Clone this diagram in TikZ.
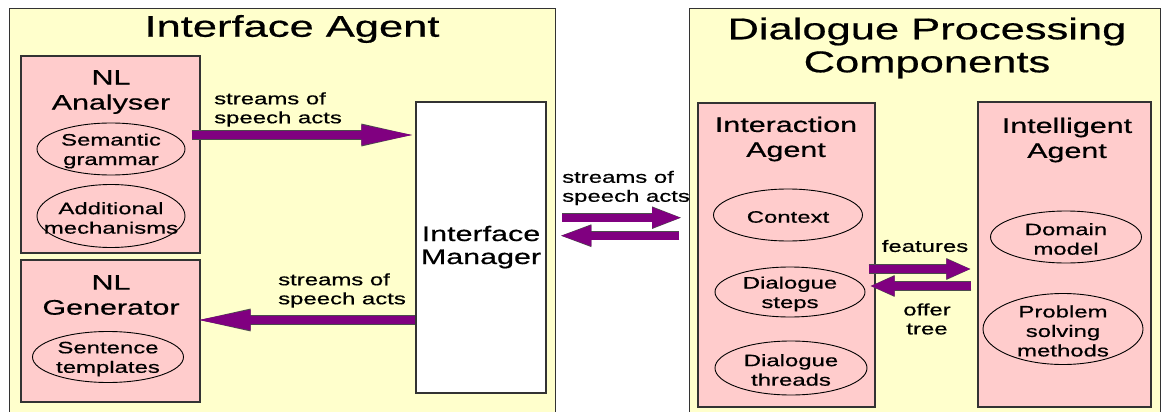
\documentclass[tikz,border=0pt]{standalone}
\usepackage{fontspec}
\setmainfont{Liberation Sans}[FakeStretch=1.45,FakeBold=0.6]
\usetikzlibrary{shapes.geometric,arrows.meta}
\definecolor{panelyellow}{HTML}{FFFFCC}
\definecolor{compink}{HTML}{FFCCCC}
\definecolor{flowpurple}{HTML}{800080}
\definecolor{edgegray}{HTML}{333333}

\begin{document}
\begin{tikzpicture}[x=1pt,y=-1pt,
  panel/.style={draw=edgegray, line width=1.4pt, fill=panelyellow, inner sep=0pt},
  compbox/.style={draw=edgegray, line width=1.4pt, fill=compink, inner sep=0pt},
  manager/.style={draw=edgegray, line width=1.4pt, fill=white, inner sep=0pt, align=center,
    font=\fontsize{21}{25}\selectfont},
  paneltitle/.style={align=center, inner sep=0pt, font=\fontsize{30}{33}\selectfont},
  boxtitle/.style={align=center, inner sep=0pt, font=\fontsize{21}{25}\selectfont},
  % ellipse outline of fixed size; its text is set as a centred label
  part/.style={ellipse, draw=black, line width=0.9pt, inner sep=0pt,
    label={[parttext]center:#1}},
  parttext/.style={align=center, inner sep=0pt, yshift=-2pt,
    font=\fontsize{16.5}{19.5}\selectfont},
  flowlabel/.style={align=left, inner sep=0pt, anchor=west, font=\fontsize{16.5}{19}\selectfont},
  flowlabelc/.style={align=center, inner sep=0pt, font=\fontsize{16.5}{19}\selectfont},
  fat/.style={draw=flowpurple, line width=8pt,
    -{Triangle[length=#1 0 0, width=18pt 0 0]},
    preaction={draw=black!70, line width=9.2pt, -{Triangle[length=#1 0 0, width=19.8pt 0 0]}}}
]
\useasboundingbox (0,0) rectangle (1162,412);
\clip (0,0) rectangle (1162,412);
\fill[white] (0,0) rectangle (1162,412);

% ---------- Interface Agent ----------
\node[panel, minimum width=546pt, minimum height=420pt, anchor=north west] (left) at (9,8) {};
\node[paneltitle] (leftT) at (292,29) {Interface Agent};

\node[compbox, minimum width=179pt, minimum height=197pt] (nla) at (110.5,154.5) {};
\node[boxtitle] (nlaT) at (111,92) {NL\\Analyser};
\node[part={Semantic\\grammar}, minimum width=148pt, minimum height=52pt] (sem) at (111,149) {};
\node[part={Additional\\mechanisms}, minimum width=148pt, minimum height=63pt] (add) at (111,216) {};

\node[compbox, minimum width=179pt, minimum height=142pt] (nlg) at (110.5,331) {};
\node[boxtitle] (nlgT) at (111,295) {NL\\Generator};
\node[part={Sentence\\templates}, minimum width=151pt, minimum height=51pt] (sent) at (108,357) {};

\node[manager, minimum width=130pt, minimum height=291pt] (im) at (481,247.5)
  {\raisebox{-2pt}{\begin{tabular}{@{}c@{}}Interface\\[-2pt]Manager\end{tabular}}};

\node[flowlabel] (lab1) at (214,109.5) {streams of\\speech acts};
\node[flowlabel] (lab2) at (278,290.5) {streams of\\speech acts};

\draw[fat=56pt] ([xshift=-9pt,yshift=19.5pt]nla.east) -- ([xshift=2pt,yshift=112.5pt]im.west);
\draw[fat=57pt] ([yshift=-72.5pt]im.west) -- ([xshift=-7pt,yshift=11pt]nlg.east);

% ---------- Dialogue Processing Components ----------
\node[panel, minimum width=471pt, minimum height=420pt, anchor=north west] (right) at (689,8) {};
\node[paneltitle] (rightT) at (927,48) {Dialogue Processing\\Components};

\node[compbox, minimum width=177pt, minimum height=304pt] (ia) at (786.5,255) {};
\node[boxtitle] (iaT) at (786,139) {Interaction\\Agent};
\node[part={Context}, minimum width=149pt, minimum height=52pt] (ctx) at (788,215) {};
\node[part={Dialogue\\steps}, minimum width=150pt, minimum height=50pt] (steps) at (790,292) {};
\node[part={Dialogue\\threads}, minimum width=152pt, minimum height=54pt] (threads) at (791,368) {};

\node[compbox, minimum width=173pt, minimum height=305pt] (ig) at (1064.5,254.5) {};
\node[boxtitle] (igT) at (1067,140) {Intelligent\\Agent};
\node[part={Domain\\model}, minimum width=151pt, minimum height=52pt] (dom) at (1066,237) {};
\node[part={Problem\\solving\\methods}, minimum width=160pt, minimum height=71pt] (psm) at (1063,329) {};

% ---------- flows between the panels and agents ----------
\node[flowlabel] (lab3) at (562,188) {streams of\\speech acts};
\draw[fat=31pt] ([xshift=6pt,yshift=1pt]left.east) -- ([xshift=-6pt,yshift=1pt]right.west);
\draw[fat=33pt] ([xshift=-10pt,yshift=-17pt]right.west) -- ([xshift=2pt,yshift=-17pt]left.east);

\node[flowlabelc] (feat) at (925,246) {features};
\node[flowlabelc] (offer) at (927,319) {offer\\tree};
\draw[fat=25pt] ([xshift=-7pt,yshift=-14pt]ia.east) -- ([xshift=-6pt,yshift=-14.5pt]ig.west);
\draw[fat=25pt] ([xshift=-6pt,yshift=-31.5pt]ig.west) -- ([xshift=-6pt,yshift=-31pt]ia.east);
\end{tikzpicture}
\end{document}
